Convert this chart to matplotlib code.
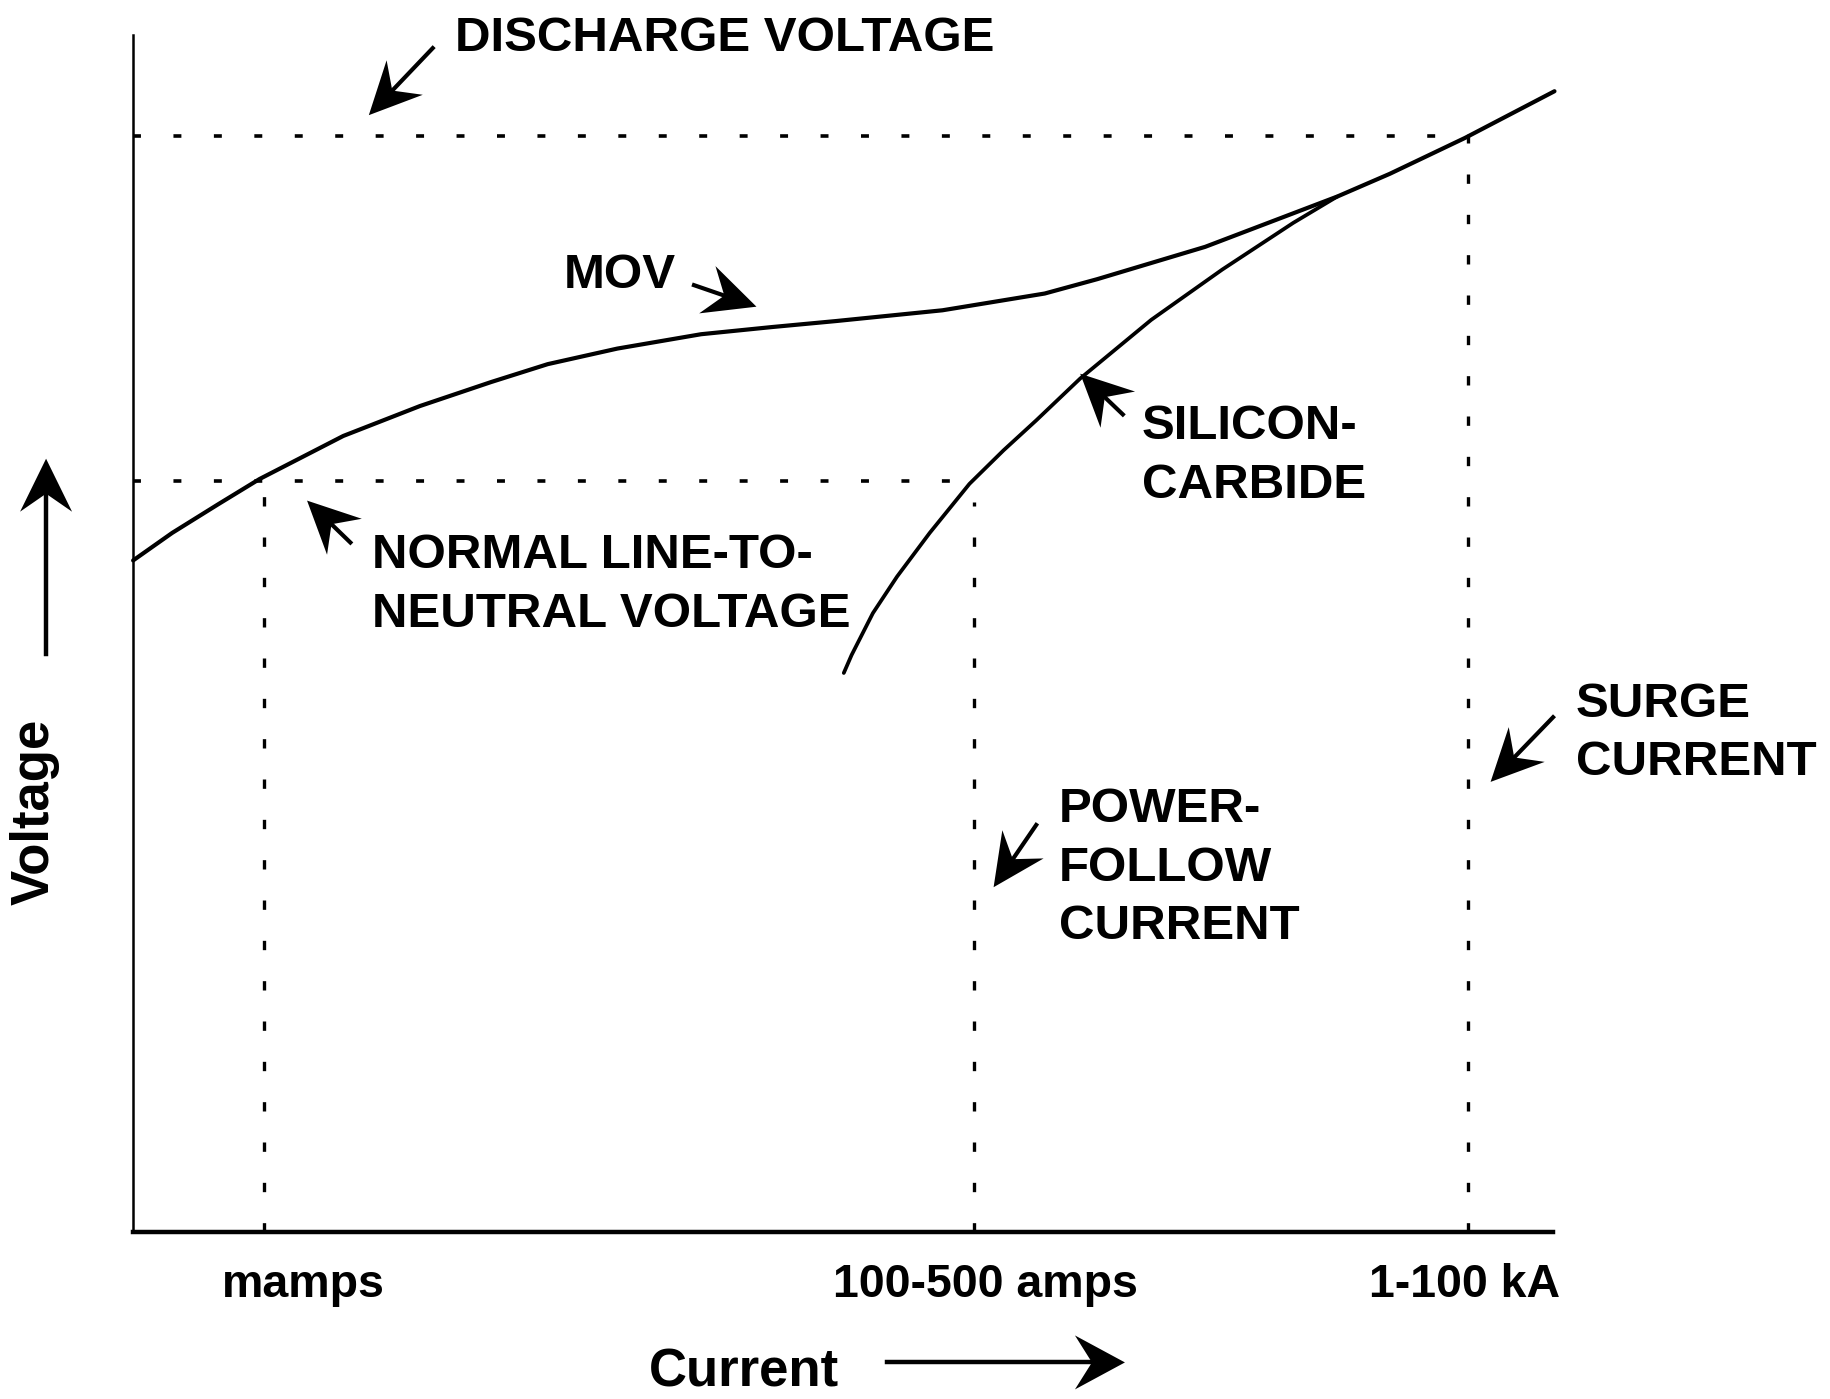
import numpy as np
import matplotlib
matplotlib.use("Agg")
import matplotlib.pyplot as plt
from matplotlib.patches import Polygon
from matplotlib.lines import Line2D
from matplotlib.transforms import IdentityTransform

plt.rcParams['font.family'] = ['Liberation Sans', 'DejaVu Sans']

# arbitrary units: current (x) and voltage (y), both on a 0-100 scale
mov_current = [0, 2.75, 6.0, 8.9, 14.8, 20.2, 25.2, 29.2, 34.1, 40.0, 45.0, 49.5,
               57.0, 64.2, 67.9, 75.5, 81.7, 84.8, 88.5, 93.8, 100.1]
mov_voltage = [56.1, 58.4, 60.8, 62.9, 66.5, 69.0, 71.0, 72.5, 73.8, 75.0, 75.6, 76.1,
               77.0, 78.4, 79.6, 82.3, 85.1, 86.5, 88.4, 91.4, 95.3]

sic_current = [50.05, 50.6, 52.1, 53.8, 56.1, 58.9, 61.3, 63.6, 66.7, 71.7, 76.7, 81.7, 84.8]
sic_voltage = [46.7, 48.2, 51.7, 54.75, 58.4, 62.5, 65.3, 67.8, 71.3, 76.2, 80.4, 84.3, 86.5]

normal_voltage = 62.7
discharge_voltage = 91.6
mamps_current = 9.2
follow_current = 59.2
surge_current = 94.0
follow_line_end = 58.2

tick_pos = [12.0, 60.0, 93.8]
tick_labels = ["mamps", "100-500 amps", "1-100 kA"]

fig = plt.figure(figsize=(18.31, 13.99), dpi=100)
ax = fig.add_axes([0.0727, 0.1194, 0.7755, 0.8556])
ax.set_xlim(0, 100)
ax.set_ylim(0, 100)
for side in ["top", "right"]:
    ax.spines[side].set_visible(False)
ax.spines["left"].set_linewidth(1.8)
ax.spines["bottom"].set_linewidth(3.2)

# reference lines
hdots = (0, (2.2, 9.0))
vdash = (0, (2.8, 9.3))
ax.plot([0, surge_current], [discharge_voltage] * 2, color="black", lw=2.6, ls=hdots)
ax.plot([0, follow_line_end], [normal_voltage] * 2, color="black", lw=2.6, ls=hdots)
ax.plot([mamps_current] * 2, [0, normal_voltage], color="black", lw=2.4, ls=vdash)
ax.plot([follow_current] * 2, [0, normal_voltage - 1.7], color="black", lw=2.4, ls=vdash)
ax.plot([surge_current] * 2, [0, discharge_voltage], color="black", lw=2.4, ls=vdash)

# characteristic curves
ax.plot(mov_current, mov_voltage, color="black", lw=3.0, clip_on=False,
        solid_capstyle="round", solid_joinstyle="round")
ax.plot(sic_current, sic_voltage, color="black", lw=2.7, clip_on=False,
        solid_capstyle="round", solid_joinstyle="round")

ax.set_xticks(tick_pos, tick_labels, fontsize=33.5, fontweight="bold")
ax.tick_params(axis="x", length=0, pad=22)
ax.set_yticks([])

ax.set_xlabel("Current", fontsize=38, fontweight="bold", va="center")
ax.xaxis.set_label_coords(0.43, -0.117)
ax.set_ylabel("Voltage", fontsize=38, fontweight="bold", va="center")
ax.yaxis.set_label_coords(-0.069, 0.351)

lbl = dict(fontsize=35.5, fontweight="bold", va="center", ha="left", clip_on=False)
labels = [
    (["DISCHARGE VOLTAGE"], 22.7, 99.7),
    (["MOV"], 30.35, 79.9),
    (["NORMAL LINE-TO-", "NEUTRAL VOLTAGE"], 16.8, 56.5),
    (["SILICON-", "CARBIDE"], 71.05, 67.3),
    (["POWER-", "FOLLOW", "CURRENT"], 65.2, 35.3),
    (["SURGE", "CURRENT"], 101.6, 44.1),
]
for lines, x, y in labels:
    for i, line in enumerate(lines):
        ax.text(x, y - i * 4.9, line, **lbl)


def arrow(tail, tip, head_len=52, half_w=25, notch=34, lw=3.0):
    # barbed arrow head drawn in pixels, shaft ends at the notch
    p0 = ax.transData.transform(tail)
    p1 = ax.transData.transform(tip)
    u = (p1 - p0) / np.linalg.norm(p1 - p0)
    n = np.array([-u[1], u[0]])
    back = p1 - notch * u
    head = [p1, p1 - head_len * u + half_w * n, back, p1 - head_len * u - half_w * n]
    fig.add_artist(Line2D([p0[0], back[0]], [p0[1], back[1]], color="black", lw=lw,
                          transform=IdentityTransform()))
    fig.add_artist(Polygon(head, closed=True, color="black", lw=0,
                           transform=IdentityTransform()))


arrow((21.1, 98.9), (16.6, 93.3))
arrow((39.5, 79.1), (43.9, 77.3))
arrow((69.7, 68.3), (66.7, 71.7))
arrow((15.3, 57.6), (12.25, 61.1))
arrow((63.6, 34.0), (60.6, 28.8))
arrow((100.0, 43.0), (95.6, 37.6))
# axis direction arrows
arrow((-6.13, 48.3), (-6.13, 64.6), head_len=53, half_w=26, notch=35, lw=3.2)
arrow((53.1, -10.9), (69.85, -10.9), head_len=50, half_w=27, notch=33, lw=3.2)

plt.savefig("out.png", dpi=100)
